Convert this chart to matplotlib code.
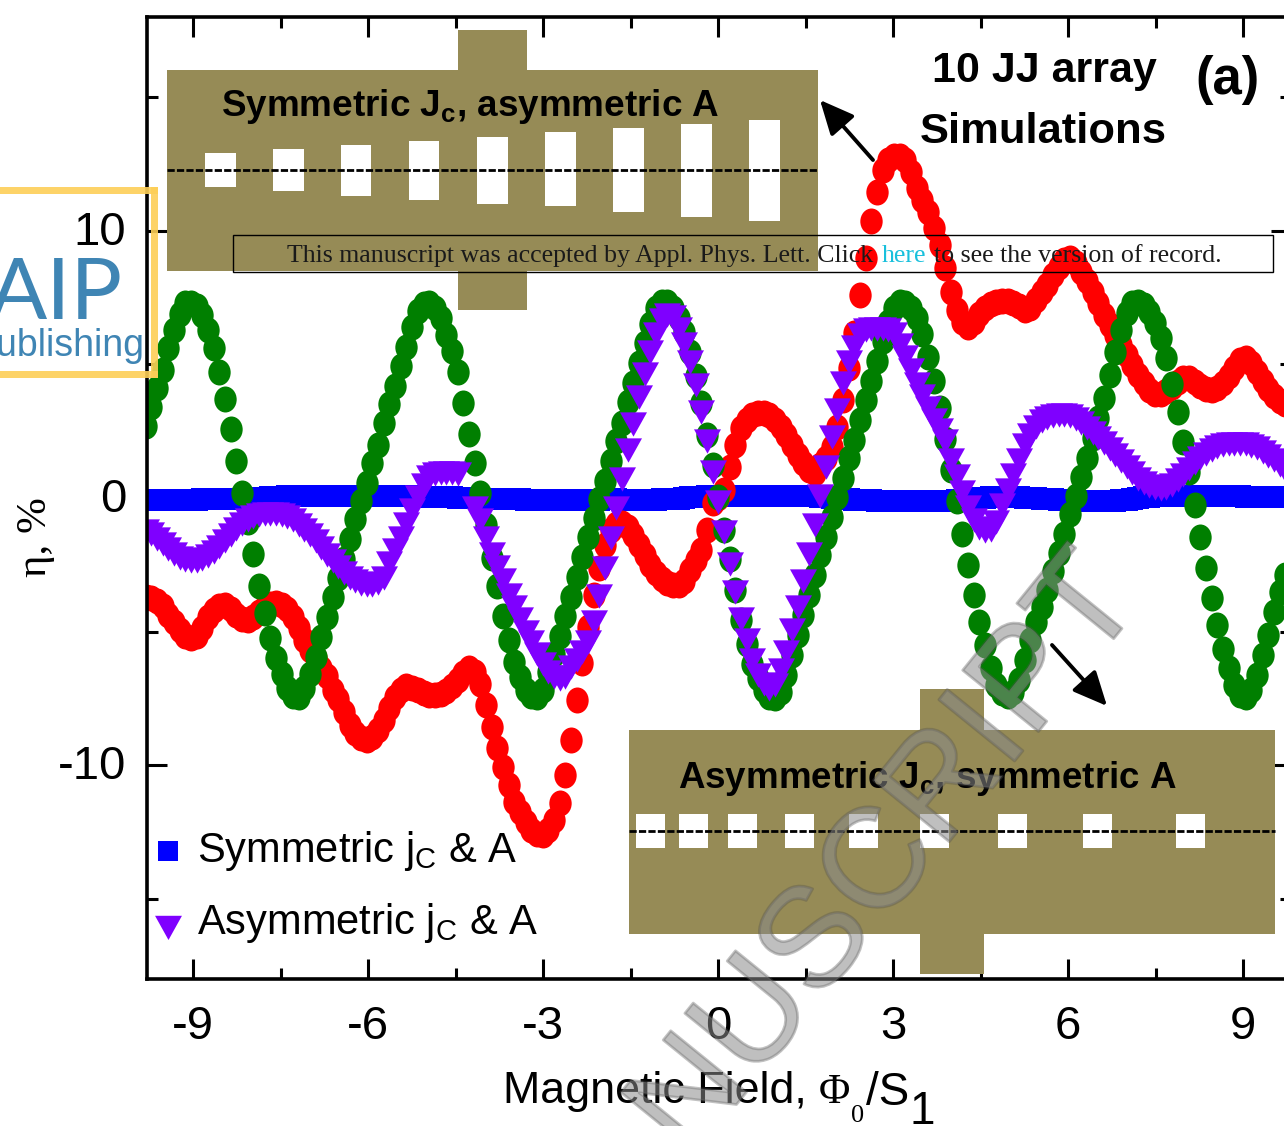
import numpy as np
import matplotlib
matplotlib.use("Agg")
import matplotlib.pyplot as plt
from matplotlib.path import Path
from matplotlib.patches import Rectangle, FancyArrowPatch
from matplotlib.lines import Line2D
from matplotlib.transforms import ScaledTranslation
import matplotlib.patheffects as pe

W, H = 1284, 1126
plt.rcParams['font.family'] = ['Liberation Sans', 'DejaVu Sans']
plt.rcParams['axes.unicode_minus'] = False
plt.rcParams['mathtext.fontset'] = 'custom'
plt.rcParams['mathtext.rm'] = 'Liberation Sans'
plt.rcParams['mathtext.bf'] = 'Liberation Sans:bold'

field = np.linspace(-9.813, 9.724, 202)

symmetric = [
 -.07,-.07,-.07,-.07,-.07,-.07,-.07,-.06,-.06,-.06,-.05,-.05,-.04,-.04,-.04,-.03,-.03,-.02,-.01,0,
 0,.01,.03,.04,.05,.06,.07,.07,.08,.08,.08,.08,.08,.08,.08,.08,.08,.08,.08,.08,
 .08,.08,.08,.07,.07,.07,.06,.06,.05,.05,.04,.04,.03,.02,.02,.01,0,0,-.01,-.02,
 -.02,-.03,-.03,-.04,-.04,-.05,-.05,-.06,-.06,-.06,-.06,-.06,-.07,-.07,-.07,-.07,-.07,-.07,-.06,-.06,
 -.06,-.05,-.05,-.05,-.06,-.07,-.07,-.07,-.07,-.07,-.06,-.05,-.04,-.03,-.02,0,.02,.04,.05,.06,
 .07,.07,.08,.08,.08,.08,.08,.08,.08,.08,.08,.08,.08,.08,.08,.08,.08,.07,.06,.04,
 .02,0,-.02,-.03,-.05,-.06,-.07,-.08,-.09,-.1,-.11,-.11,-.11,-.11,-.11,-.11,-.11,-.11,-.11,-.11,
 -.11,-.11,-.1,-.08,-.06,-.04,-.02,0,.01,.02,.03,.04,.04,.03,.02,.01,0,-.01,-.02,-.04,
 -.05,-.07,-.08,-.09,-.1,-.11,-.12,-.12,-.12,-.12,-.11,-.1,-.08,-.06,-.03,0,.03,.05,.07,.08,
 .09,.09,.09,.09,.09,.09,.09,.08,.08,.08,.08,.07,.07,.06,.05,.05,.04,.04,.04,.04,
 .04,.04]

asym_jc = [
 -3.71,-3.75,-3.86,-4.04,-4.38,-4.64,-4.94,-5.17,-5.24,-5.17,-4.87,-4.46,-4.19,-4.04,-4.01,-4.16,-4.38,-4.53,-4.57,-4.46,
 -4.27,-4.08,-3.97,-3.93,-4.01,-4.16,-4.46,-4.87,-5.32,-5.69,-5.99,-6.37,-6.67,-7.19,-7.53,-8.01,-8.5,-8.8,-8.99,-9.06,
 -8.95,-8.69,-8.31,-7.87,-7.45,-7.19,-7.04,-7.12,-7.19,-7.3,-7.38,-7.38,-7.34,-7.23,-7.04,-6.82,-6.55,-6.37,-6.52,-6.97,
 -7.75,-8.58,-9.36,-10.07,-10.75,-11.39,-11.76,-12.13,-12.43,-12.58,-12.62,-12.43,-12.06,-11.42,-10.37,-9.06,-7.57,-6.18,-4.83,-3.63,
 -2.62,-1.76,-1.2,-.97,-.94,-1.09,-1.39,-1.76,-2.13,-2.51,-2.81,-3.03,-3.18,-3.26,-3.26,-3.11,-2.7,-2.32,-1.95,-1.2,
 -.19,0,.3,1.16,1.99,2.62,2.92,3.11,3.18,3.18,3.11,2.92,2.66,2.36,1.99,1.61,1.31,1.05,.94,1.24,
 1.5,1.91,2.66,3.67,4.87,6.18,7.6,8.99,10.37,11.46,12.28,12.66,12.81,12.81,12.66,12.21,11.61,11.16,10.71,10.11,
 9.48,8.61,7.72,7.04,6.59,6.4,6.59,6.89,7.12,7.27,7.34,7.38,7.38,7.3,7.19,7.04,7.12,7.42,7.72,7.98,
 8.35,8.65,8.91,8.99,8.8,8.46,8.13,7.72,7.3,6.85,6.48,6.1,5.73,5.36,4.98,4.61,4.31,4.04,3.9,3.9,
 4.01,4.16,4.34,4.49,4.49,4.34,4.19,4.08,4.04,4.12,4.31,4.57,4.87,5.17,5.24,5.06,4.72,4.38,4.08,3.82,
 3.63,3.52]

sym_jc_asym_a = [
 2.7,3.4,4.1,4.8,5.6,6.3,6.9,7.3,7.3,7.2,6.85,6.3,5.6,4.7,3.7,2.6,1.4,.2,-.9,-2.1,
 -3.3,-4.3,-5.25,-6.0,-6.6,-7.1,-7.4,-7.45,-7.1,-6.6,-5.95,-5.2,-4.45,-3.7,-3.0,-2.3,-1.55,-.8,-.1,.55,
 1.3,2.0,2.8,3.5,4.2,4.95,5.65,6.4,7.0,7.25,7.3,7.1,6.75,6.1,5.5,4.7,3.55,2.4,1.3,.2,
 -1.0,-2.25,-3.3,-4.4,-5.3,-6.15,-6.7,-7.2,-7.4,-7.45,-7.2,-6.5,-5.85,-5.15,-4.4,-3.7,-2.95,-2.2,-1.45,-.75,
 -.05,.65,1.4,2.15,2.8,3.6,4.3,5.05,5.8,6.5,7.1,7.35,7.35,7.1,6.75,6.2,5.45,4.55,3.55,2.35,
 1.25,.05,-1.2,-2.3,-3.45,-4.55,-5.45,-6.2,-6.75,-7.2,-7.45,-7.5,-7.25,-6.63,-5.88,-5.13,-4.38,-3.63,-2.88,-2.13,
 -1.46,-.71,.04,.75,1.5,2.17,2.92,3.67,4.38,5.13,5.88,6.59,7.12,7.34,7.3,7.12,6.74,6.14,5.28,4.38,
 3.37,2.21,1.05,-.11,-1.35,-2.51,-3.63,-4.64,-5.51,-6.37,-7.0,-7.3,-7.42,-7.27,-6.82,-6.07,-5.32,-4.64,-4.08,-3.45,
 -2.73,-2.06,-1.35,-.6,.07,.79,1.5,2.25,3.0,3.75,4.6,5.47,6.29,6.93,7.3,7.34,7.23,6.97,6.55,5.99,
 5.24,4.27,3.22,2.1,.97,-.26,-1.46,-2.62,-3.75,-4.76,-5.66,-6.37,-7.0,-7.38,-7.45,-7.19,-6.63,-5.88,-5.13,-4.27,
 -3.52,-2.88]

asymmetric = [
 -1.24,-1.35,-1.54,-1.72,-1.91,-2.1,-2.25,-2.32,-2.36,-2.36,-2.28,-2.17,-2.02,-1.84,-1.61,-1.39,-1.16,-.97,-.82,-.71,
 -.64,-.6,-.6,-.6,-.64,-.71,-.82,-1.01,-1.2,-1.39,-1.61,-1.87,-2.13,-2.36,-2.58,-2.81,-3.0,-3.11,-3.22,-3.26,
 -3.26,-3.18,-3.0,-2.43,-1.95,-1.5,-.97,-.45,.04,.49,.79,.9,.94,.94,.94,.9,np.nan,np.nan,-.37,-.82,
 -1.5,-2.1,-2.58,-3.07,-3.63,-4.08,-4.53,-5.02,-5.39,-5.84,-6.22,-6.52,-6.7,-6.78,-6.7,-6.33,-6.07,-5.77,-5.39,-4.64,
 -3.67,-2.62,-1.5,-.37,.71,1.8,2.77,3.78,4.64,5.47,6.14,6.67,6.85,6.78,6.33,5.77,5.09,4.23,3.22,2.13,
 .97,-.15,-1.27,-2.47,-3.52,-4.53,-5.32,-6.07,-6.63,-6.97,-7.15,-7.0,-6.44,-5.77,-4.94,-4.08,-3.11,-2.1,-1.01,.07,
 1.16,2.28,3.3,4.31,5.09,5.66,6.1,6.29,6.33,6.33,6.33,6.29,6.14,5.73,5.28,4.79,4.27,3.82,3.37,2.92,
 2.55,2.13,1.42,.82,.22,-.34,-.82,-1.12,-1.24,-1.2,-.9,-.26,.3,.86,1.42,1.99,2.36,2.66,2.88,3.0,
 3.07,3.11,3.11,3.07,2.96,2.81,2.62,2.43,2.25,2.06,1.84,1.61,1.39,1.16,.94,.71,.56,.45,.37,.34,
 .37,.49,.67,.86,1.09,1.31,1.5,1.65,1.8,1.91,1.99,2.02,2.02,2.02,2.02,1.95,1.87,1.72,1.57,1.42,
 1.24,1.05]

x_major = [-9, -6, -3, 0, 3, 6, 9]
x_minor = [-7.5, -4.5, -1.5, 1.5, 4.5, 7.5]
y_major = [-10, 0, 10]
y_minor = [-15, -5, 5, 15]
legend_labels = [r"Symmetric j$_{\mathrm{C}}$ & A", r"Asymmetric j$_{\mathrm{C}}$ & A"]

fig = plt.figure(figsize=(W/100, H/100), dpi=100)
ax = fig.add_axes([147/W, 1-979/H, (1291-147)/W, (979-17)/H])

ellipse = Path(Path.unit_circle().vertices * [0.86, 1.0], Path.unit_circle().codes)
tri = Path([(-1, .9), (1, .9), (0, -.9), (-1, .9)], closed=True)
# legend keys sit a little below their text rows
tri_key = Path([(-1, .35), (1, .35), (0, -1.45), (-1, .35)], closed=True)
sq_key = Path([(-1, .6), (1, .6), (1, -1.4), (-1, -1.4), (-1, .6)], closed=True)

PT = 0.72
ax.plot(field, symmetric, ls='', marker='s', ms=23*PT, mfc='#0000ff', mew=0)
ax.plot(field, asym_jc, ls='', marker=ellipse, ms=26*PT, mfc='#ff0000', mew=0)
ax.plot(field, sym_jc_asym_a, ls='', marker=ellipse, ms=26*PT, mfc='#007f00', mew=0)
ax.plot(field, asymmetric, ls='', marker=tri, ms=27*PT, mfc='#7f00ff', mew=0)

ax.set_xticks(x_major)
ax.set_xticks(x_minor, minor=True)
ax.set_yticks(y_major)
ax.set_yticks(y_minor, minor=True)
ax.set_xlim(-9.79, 9.82)
ax.set_ylim(-18, 18)
ax.tick_params(which='major', direction='in', length=20*PT, width=2.2, top=True, right=True, labelsize=34, pad=19)
ax.tick_params(which='minor', direction='in', length=11*PT, width=2.2, top=True, right=True)
ax.tick_params(axis='y', which='major', pad=15)
for s in ax.spines.values():
    s.set_linewidth(2.6)
for lab in ax.get_yticklabels():
    lab.set_transform(lab.get_transform() + ScaledTranslation(0, 3/100, fig.dpi_scale_trans))


def T(x, y, s, **kw):
    kw.setdefault('ha', 'left')
    kw.setdefault('va', 'center')
    kw.setdefault('zorder', 6)
    return fig.text(x/W, 1-y/H, s, **kw)


def R(x0, y0, x1, y1, **kw):
    fig.add_artist(Rectangle((x0/W, 1-y1/H), (x1-x0)/W, (y1-y0)/H, transform=fig.transFigure, lw=0, **kw))


BROWN = '#968b56'
# upper inset
R(167, 70, 818, 271, fc=BROWN, zorder=3)
R(458, 30, 527, 310, fc=BROWN, zorder=3)
upper_cx = [220, 288, 356, 424, 492, 560, 628, 696, 764]
upper_y0 = [153, 149, 145, 141, 137, 132, 128, 124, 120]
upper_y1 = [187, 191, 196, 200, 204, 206, 212, 217, 221]
for c, a, b in zip(upper_cx, upper_y0, upper_y1):
    R(c-15.5, a, c+15.5, b, fc='white', zorder=3.1)
# lower inset
R(629, 730, 1275, 934, fc=BROWN, zorder=3)
R(920, 689, 984, 974, fc=BROWN, zorder=3)
lower_x0 = [636, 679, 728, 785, 849, 920, 998, 1083, 1176]
for a in lower_x0:
    R(a, 814, a+29, 848, fc='white', zorder=3.1)
for y, a, b in [(170, 167, 818), (831, 629, 1275)]:
    fig.add_artist(Line2D([a/W, b/W], [1-y/H, 1-y/H], transform=fig.transFigure, color='k', lw=2.0,
                          dashes=(2.6, 0.8), zorder=3.2))

T(221, 106, r"Symmetric J$_{\mathbf{c}}$, asymmetric A", fontsize=26.6, fontweight='bold')
T(678, 779, r"Asymmetric J$_{\mathbf{c}}$, symmetric A", fontsize=26.5, fontweight='bold')
T(1044, 71, "10 JJ array", fontsize=31, fontweight='bold', ha='center')
T(1043, 132, "Simulations", fontsize=31.3, fontweight='bold', ha='center')
T(1228, 80, "(a)", fontsize=38, fontweight='bold', ha='center')

# arrows
for (a, b) in [((873, 160), (820, 100)), ((1052, 645), (1107, 706))]:
    fig.add_artist(FancyArrowPatch((a[0]/W, 1-a[1]/H), (b[0]/W, 1-b[1]/H), transform=fig.transFigure,
                                   arrowstyle='-|>,head_length=1.3,head_width=0.6', mutation_scale=16,
                                   lw=2.8, color='k', shrinkA=0, shrinkB=0, zorder=5))

# axis titles
T(36, 537, "η, %", family=['Liberation Serif', 'DejaVu Serif'], fontsize=31, rotation=90, ha='center')
T(503, 1092, "Magnetic Field,", fontsize=32.3)
T(819, 1093, "Φ", family=['Liberation Serif'], fontsize=31)
T(851, 1116, "0", family=['Liberation Serif'], fontsize=19)
T(866, 1093, "/S", fontsize=33)
T(909, 1112, "1", fontsize=33)

# legend
key_blue = Line2D([], [], ls='', marker=sq_key, ms=28*PT, mfc='#0000ff', mew=0)
key_pur = Line2D([], [], ls='', marker=tri_key, ms=39*PT, mfc='#7f00ff', mew=0)
ax.legend([key_blue, key_pur], legend_labels, loc='lower left', bbox_to_anchor=(0.0, 0.035), frameon=False,
          fontsize=30, handletextpad=0.2, labelspacing=0.69, handlelength=1.0, borderaxespad=0,
          numpoints=1, borderpad=0)

# notice strip
fig.add_artist(Rectangle((233/W, 1-272/H), 1040/W, 37/H, transform=fig.transFigure, fc='none', ec='k', lw=1, zorder=5))
SERIF = ['Liberation Serif', 'DejaVu Serif']
T(287, 256, "This manuscript was accepted by Appl. Phys. Lett. Click", family=SERIF, fontsize=18.6, color='#1a1a1a')
T(882, 256, "here", family=SERIF, fontsize=18.6, color='#19c0dc')
T(934, 256, "to see the version of record.", family=SERIF, fontsize=18.6, color='#1a1a1a')

# publisher mark
YEL = '#fdcf57'
for box in [(-10, 187, 158, 194), (-10, 371, 158, 378), (151, 187, 158, 378)]:
    R(*box, fc=YEL, alpha=0.9, zorder=4)
T(123, 295, "AIP", family=['Lato', 'Noto Sans'], fontsize=62, color='#3f85b4', ha='right', zorder=4)
T(145, 346, "Publishing", fontsize=27, color='#3f85b4', ha='right', zorder=4)

# watermark
T(1145, 600, "MANUSCRIPT", fontsize=102, color='#8a8a8a', alpha=0.3, rotation=51, rotation_mode='anchor',
  ha='right', va='baseline', zorder=7,
  path_effects=[pe.withStroke(linewidth=2, foreground='#505050', alpha=0.35)])

fig.savefig("out.png", dpi=100)
